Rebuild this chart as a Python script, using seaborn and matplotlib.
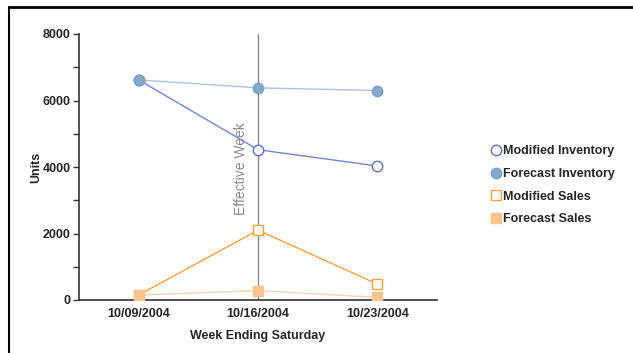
import numpy as np
import pandas as pd
import seaborn as sns
import matplotlib.pyplot as plt
from matplotlib.lines import Line2D

sns.set_style("white")
plt.rcParams['font.family'] = ['Liberation Sans', 'DejaVu Sans']

# Data
weeks = ['10/09/2004', '10/16/2004', '10/23/2004']
modified_inventory = [6620, 4520, 4030]
forecast_inventory = [6620, 6380, 6300]
modified_sales = [150, 2100, 480]
forecast_sales = [150, 280, 80]

series = {
    'Modified Inventory': dict(y=modified_inventory, mfc='white', mec='#5b6fd8', marker='o', lc='#6f86dc'),
    'Forecast Inventory': dict(y=forecast_inventory, mfc='#86a9c9', mec='#7aa0cc', marker='o', lc='#a9c3ea'),
    'Modified Sales': dict(y=modified_sales, mfc='white', mec='#f7a23c', marker='s', lc='#f7a23c'),
    'Forecast Sales': dict(y=forecast_sales, mfc='#f9c48e', mec='#f9c48e', marker='s', lc='#f6d2b0'),
}

fig = plt.figure(figsize=(6.33, 3.53), dpi=100)
ax = fig.add_axes([79 / 633, 1 - 300 / 353, (437 - 79) / 633, (300 - 34) / 353])

# vertical "Effective Week" marker
ax.axvline(1, color='#8a8a8a', lw=1.0, zorder=1)
ax.text(0.86, 3950, 'Effective Week', rotation=90, color='#8a8a8a', fontsize=10,
        ha='center', va='center')

draw_order = ['Modified Sales', 'Forecast Sales', 'Modified Inventory', 'Forecast Inventory']
for name in draw_order:
    s = series[name]
    df = pd.DataFrame({'week': weeks, 'units': s['y']})
    sns.lineplot(data=df, x='week', y='units', ax=ax, color=s['lc'], lw=1.0,
                 marker=s['marker'], markersize=7.5,
                 markerfacecolor=s['mfc'], markeredgecolor=s['mec'], markeredgewidth=1.0,
                 zorder=3)

ax.set_xlim(-0.5, 2.5)
ax.set_ylim(0, 8000)
ax.set_xticks(range(3))
ax.set_xticklabels(weeks, fontsize=9, fontweight='bold')
ax.set_xticks([0.5, 1.5, 2.5], minor=True)
ax.set_yticks([0, 2000, 4000, 6000, 8000])
ax.set_yticklabels(['0', '2000', '4000', '6000', '8000'], fontsize=9, fontweight='bold')
ax.set_yticks([1000, 3000, 5000, 7000], minor=True)
ax.tick_params(axis='x', which='major', length=0, pad=6)
ax.tick_params(axis='x', which='minor', length=4, width=1, color='#333333', direction='inout')
ax.tick_params(axis='y', which='both', length=4, width=1, color='#333333', direction='out', left=True, pad=2)
ax.set_xlabel('Week Ending Saturday', fontsize=9, fontweight='bold', labelpad=7)
ax.set_ylabel('Units', fontsize=9, fontweight='bold', labelpad=0)

sns.despine(ax=ax)
for sp in ['left', 'bottom']:
    ax.spines[sp].set_color('#333333')
    ax.spines[sp].set_linewidth(1.2)

handles = []
for name in ['Modified Inventory', 'Forecast Inventory', 'Modified Sales', 'Forecast Sales']:
    s = series[name]
    handles.append(Line2D([], [], linestyle='none', marker=s['marker'], markersize=7.5,
                          markerfacecolor=s['mfc'], markeredgecolor=s['mec'], markeredgewidth=1.0,
                          label=name))
fig.legend(handles=handles, loc='upper left', bbox_to_anchor=(479 / 633, 1 - 134 / 353),
           frameon=False, handletextpad=0.15, labelspacing=0.85, handlelength=0.9,
           prop=dict(size=9, weight='bold'))

# partial frame: top and left lines
fig.add_artist(Line2D([9 / 633, 1], [1 - 7 / 353, 1 - 7 / 353], color='black', lw=2))
fig.add_artist(Line2D([9 / 633, 9 / 633], [0, 1 - 7 / 353], color='black', lw=1.5))

fig.savefig('out.png', dpi=100)
